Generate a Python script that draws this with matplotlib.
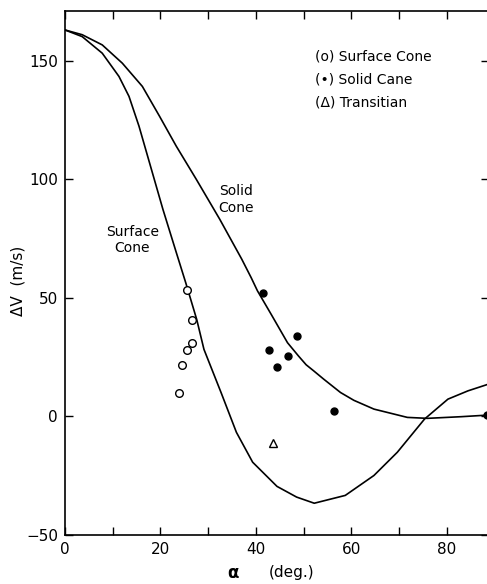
import numpy as np
import matplotlib
matplotlib.use('Agg')
import matplotlib.pyplot as plt

plt.rcParams['font.family'] = ['DejaVu Sans']

# curves (alpha in deg, dV in m/s)
solid_x = [0, 3.6, 7.8, 12, 16.2, 19.8, 23.3, 27.5, 32.4, 37, 39, 40.3, 43.2, 46.6, 48.9, 50.5,
           52.1, 54.2, 57.7, 60.5, 64.7, 71.7, 75.9, 83, 88.8]
solid_y = [163, 161, 156.7, 149, 139.2, 126.6, 114, 100, 83.2, 66.4, 58.5, 53, 43, 31.1, 25.5, 21.8,
           19.2, 15.7, 10.1, 6.8, 3.1, -0.4, -0.8, -0.1, 0.6]

surf_x = [0, 3.6, 7.8, 11.3, 13.4, 15.5, 17.7, 20.5, 23.3, 25.3, 27.6, 29.1, 32.7, 35.9, 39.3,
          44.4, 48.5, 52.2, 58.7, 64.7, 69.6, 75.3, 80.2, 84.4, 88.8]
surf_y = [163, 160.2, 153.2, 143.4, 135, 122.4, 107, 87.4, 69.2, 56.3, 40.8, 28.3, 10, -6.7, -19.3,
          -29.5, -34, -36.6, -33.3, -24.9, -15.1, -1.1, 7.3, 10.8, 13.7]

# measured points
surf_pts_x = [25.5, 26.6, 26.6, 25.5, 24.5, 23.8]
surf_pts_y = [53.4, 40.8, 31, 28, 21.8, 9.7]

solid_pts_x = [41.4, 48.5, 42.8, 46.6, 44.5, 56.3, 88.4]
solid_pts_y = [52, 34, 28, 25.6, 21, 2.1, 0.8]

trans_x = [43.5]
trans_y = [-11.3]

legend_lines = ['(o) Surface Cone', '(\u2022) Solid Cane', '(\u0394) Transitian']

fig = plt.figure(figsize=(4.87, 5.84), dpi=100)
ax = fig.add_axes([65/487, 49/584, 424/487, 524/584])

ax.plot(solid_x, solid_y, color='black', lw=1.2)
ax.plot(surf_x, surf_y, color='black', lw=1.2)
ax.plot(surf_pts_x, surf_pts_y, 'o', mfc='white', mec='black', ms=5.5, mew=1.0)
ax.plot(solid_pts_x, solid_pts_y, 'o', mfc='black', mec='black', ms=5.0)
ax.plot(trans_x, trans_y, '^', mfc='white', mec='black', ms=6, mew=1.0)

ax.set_xlim(0, 88.8)
ax.set_ylim(-50, 171)
ax.set_xticks(np.arange(0, 90, 10))
ax.set_xticklabels(['0', '', '20', '', '40', '', '60', '', '80'])
ax.set_yticks([-50, 0, 50, 100, 150])
ax.tick_params(direction='in', length=6, width=1, top=True, right=True,
               labelsize=11, pad=5)

for s in ax.spines.values():
    s.set_linewidth(1.2)

ax.text(14.1, 78, 'Surface', ha='center', va='center', fontsize=10)
ax.text(14.1, 71, 'Cone', ha='center', va='center', fontsize=10)
ax.text(35.9, 95, 'Solid', ha='center', va='center', fontsize=10)
ax.text(35.9, 88, 'Cone', ha='center', va='center', fontsize=10)

for i, t in enumerate(legend_lines):
    ax.text(52.3, 151.7 - 9.7 * i, t, ha='left', va='center', fontsize=10)

fig.text(18/487, 1 - 281/584, '\u0394V  (m/s)', rotation=90, ha='center', va='center', fontsize=11)
fig.text(233/487, 1 - 573/584, '\u03b1', ha='center', va='center', fontsize=12, fontweight='bold')
fig.text(292/487, 1 - 573/584, '(deg.)', ha='center', va='center', fontsize=11)

fig.savefig('out.png', dpi=100)
